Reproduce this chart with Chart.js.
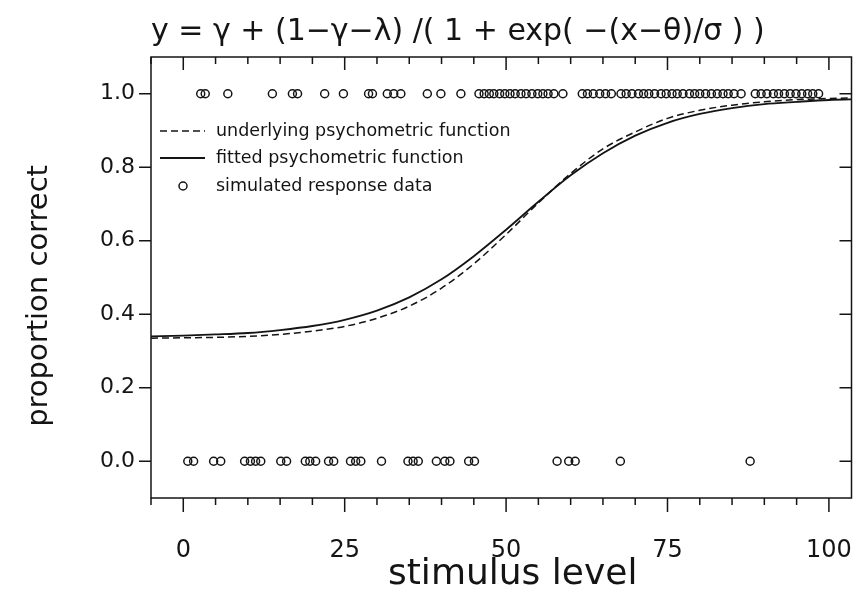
<!DOCTYPE html>
<html>
<head>
<meta charset="utf-8">
<script src="https://cdn.jsdelivr.net/npm/chart.js@4.4.0/dist/chart.umd.min.js"></script>
<style>
  html, body { margin: 0; padding: 0; background: #fff; }
</style>
</head>
<body>
<canvas id="myChart" width="857" height="593"></canvas>
<script>
// stimulus levels of the simulated trials, split by response
var stimCorrect = [2.7, 3.4, 6.9, 13.8, 16.9, 17.7, 21.9, 24.8, 28.7, 29.3, 31.6, 32.6, 33.7, 37.8, 39.9, 43.0,
  45.8, 46.6, 47.4, 48.1, 49.0, 49.8, 50.6, 51.4, 52.3, 53.1, 54.0, 54.9, 55.7, 56.5, 57.4,
  58.8,
  61.8, 62.6, 63.5, 64.5, 65.4, 66.3,
  67.8, 68.6, 69.5, 70.5, 71.3, 72.1, 73.0, 74.0, 74.8, 75.7, 76.5, 77.4, 78.4, 79.2, 80.0, 80.9, 81.8, 82.7, 83.6, 84.4, 85.3, 86.4,
  88.6, 89.5, 90.4, 91.4, 92.2, 93.1, 94.0, 94.9, 95.8, 96.7, 97.5, 98.4];
var stimWrong = [0.7, 1.6, 4.7, 5.8, 9.5, 10.4, 11.2, 12.0, 15.1, 16.0, 18.9, 19.6, 20.5, 22.5, 23.3,
  25.9, 26.7, 27.5, 30.7, 34.8, 35.6, 36.4, 39.2, 40.5, 41.3, 44.2, 45.1, 57.9, 59.7, 60.7, 67.7, 87.8];

// curves
var curveX = [-5, 0, 5, 10, 15, 20, 25, 30, 35, 40, 45, 50, 55, 60, 65, 70, 75, 80, 85, 90, 95, 100, 105];
var underlyingY = [0.335, 0.336, 0.337, 0.340, 0.345, 0.354, 0.367, 0.389, 0.422, 0.471, 0.537, 0.617, 0.703,
  0.783, 0.850, 0.896, 0.933, 0.955, 0.969, 0.978, 0.984, 0.987, 0.989];
var fittedY = [0.340, 0.342, 0.345, 0.349, 0.357, 0.368, 0.385, 0.410, 0.446, 0.495, 0.558, 0.630, 0.706,
  0.778, 0.838, 0.886, 0.921, 0.945, 0.961, 0.972, 0.978, 0.983, 0.985];

var xLabelTicks = [0, 25, 50, 75, 100];
var xMinorTicks = [-5, 5, 10, 15, 20, 30, 35, 40, 45, 55, 60, 65, 70, 80, 85, 90, 95];
var yLabelTicks = [0.0, 0.2, 0.4, 0.6, 0.8, 1.0];

var titleText = "y = \u03b3 + (1\u2212\u03b3\u2212\u03bb) /( 1 + exp( \u2212(x\u2212\u03b8)/\u03c3 ) )";
var ink = "#141414";
var fontName = "'DejaVu Sans', sans-serif";

function toPoints(xs, ys) {
  return xs.map(function (x, i) { return { x: x, y: ys[i] }; });
}

// frame, ticks on all four sides and the in-plot legend
var frameTicks = {
  id: "frameTicks",
  afterDraw: function (chart) {
    var ctx = chart.ctx;
    var a = chart.chartArea;
    var xs = chart.scales.x;
    var ys = chart.scales.y;
    ctx.save();
    ctx.strokeStyle = ink;
    ctx.lineWidth = 1.5;
    ctx.setLineDash([]);
    ctx.strokeRect(a.left, a.top, a.right - a.left, a.bottom - a.top);

    ctx.beginPath();
    xLabelTicks.forEach(function (v) {
      var px = xs.getPixelForValue(v);
      ctx.moveTo(px, a.bottom); ctx.lineTo(px, a.bottom + 14);
      ctx.moveTo(px, a.top); ctx.lineTo(px, a.top + 13);
    });
    xMinorTicks.forEach(function (v) {
      var px = xs.getPixelForValue(v);
      ctx.moveTo(px, a.bottom); ctx.lineTo(px, a.bottom + 7);
      ctx.moveTo(px, a.top); ctx.lineTo(px, a.top + 7);
    });
    yLabelTicks.forEach(function (v) {
      var py = ys.getPixelForValue(v);
      ctx.moveTo(a.left, py); ctx.lineTo(a.left - 12, py);
      ctx.moveTo(a.right, py); ctx.lineTo(a.right - 12, py);
    });
    ctx.stroke();

    // legend
    var rows = [131, 158, 186];
    var sets = chart.data.datasets;
    ctx.font = "17.5px " + fontName;
    ctx.fillStyle = ink;
    ctx.textBaseline = "middle";
    ctx.textAlign = "left";
    sets.forEach(function (ds, i) {
      var y = rows[i];
      ctx.lineWidth = ds.borderWidth;
      if (ds.showLine) {
        ctx.setLineDash(ds.borderDash || []);
        ctx.beginPath();
        ctx.moveTo(160, y); ctx.lineTo(205, y);
        ctx.stroke();
        ctx.setLineDash([]);
      } else {
        ctx.beginPath();
        ctx.arc(183, y, ds.pointRadius, 0, Math.PI * 2);
        ctx.stroke();
      }
      ctx.fillText(ds.label, 216, y);
    });
    ctx.restore();
  }
};

var allStim = stimCorrect.map(function (x) { return { x: x, y: 1 }; })
  .concat(stimWrong.map(function (x) { return { x: x, y: 0 }; }));

var ctx = document.getElementById("myChart").getContext("2d");
var chart = new Chart(ctx, {
  type: "scatter",
  data: {
    datasets: [
      {
        label: "underlying psychometric function",
        data: toPoints(curveX, underlyingY),
        showLine: true,
        borderColor: ink,
        borderWidth: 1.5,
        borderDash: [7, 4],
        pointRadius: 0,
        cubicInterpolationMode: "monotone",
      },
      {
        label: "fitted psychometric function",
        data: toPoints(curveX, fittedY),
        showLine: true,
        borderColor: ink,
        borderWidth: 1.8,
        pointRadius: 0,
        cubicInterpolationMode: "monotone",
      },
      {
        label: "simulated response data",
        data: allStim,
        showLine: false,
        borderColor: ink,
        backgroundColor: "rgba(0,0,0,0)",
        borderWidth: 1.5,
        pointRadius: 4,
        pointHoverRadius: 4,
      },
    ],
  },
  options: {
    responsive: false,
    animation: false,
    events: [],
    layout: { padding: { left: 0, right: 5, top: 0, bottom: 0 } },
    plugins: {
      legend: { display: false },
      tooltip: { enabled: false },
      title: {
        display: true,
        text: titleText,
        align: "start",
        fullSize: false,
        color: ink,
        font: { family: fontName, size: 30, weight: "normal", lineHeight: 1.2 },
        padding: { top: 14, bottom: 7 },
      },
    },
    scales: {
      x: {
        type: "linear",
        min: -5,
        max: 103.5,
        grid: { display: false, drawTicks: false },
        border: { display: false },
        afterBuildTicks: function (scale) {
          scale.ticks = xLabelTicks.map(function (v) { return { value: v }; });
        },
        afterFit: function (scale) {
          scale.height = 95;
          scale.paddingLeft = 0;
          scale.paddingRight = 0;
        },
        ticks: {
          color: ink,
          padding: 38,
          maxRotation: 0,
          autoSkip: false,
          font: { family: fontName, size: 24 },
          callback: function (v) { return String(v); },
        },
        title: {
          display: true,
          text: "  stimulus level",
          color: ink,
          font: { family: fontName, size: 36, lineHeight: 1.0 },
          padding: { top: 0, bottom: 0 },
        },
      },
      y: {
        min: -0.1,
        max: 1.1,
        grid: { display: false, drawTicks: false },
        border: { display: false },
        afterBuildTicks: function (scale) {
          scale.ticks = yLabelTicks.map(function (v) { return { value: v }; });
        },
        afterFit: function (scale) {
          scale.width = 151;
          scale.paddingTop = 0;
          scale.paddingBottom = 0;
        },
        ticks: {
          color: ink,
          padding: 16,
          autoSkip: false,
          font: { family: fontName, size: 22 },
          callback: function (v) { return Number(v).toFixed(1); },
        },
        title: {
          display: true,
          text: "proportion correct    ",
          color: ink,
          font: { family: fontName, size: 29 },
          padding: { top: 22, bottom: 0 },
        },
      },
    },
  },
  plugins: [frameTicks],
});
</script>
</body>
</html>
